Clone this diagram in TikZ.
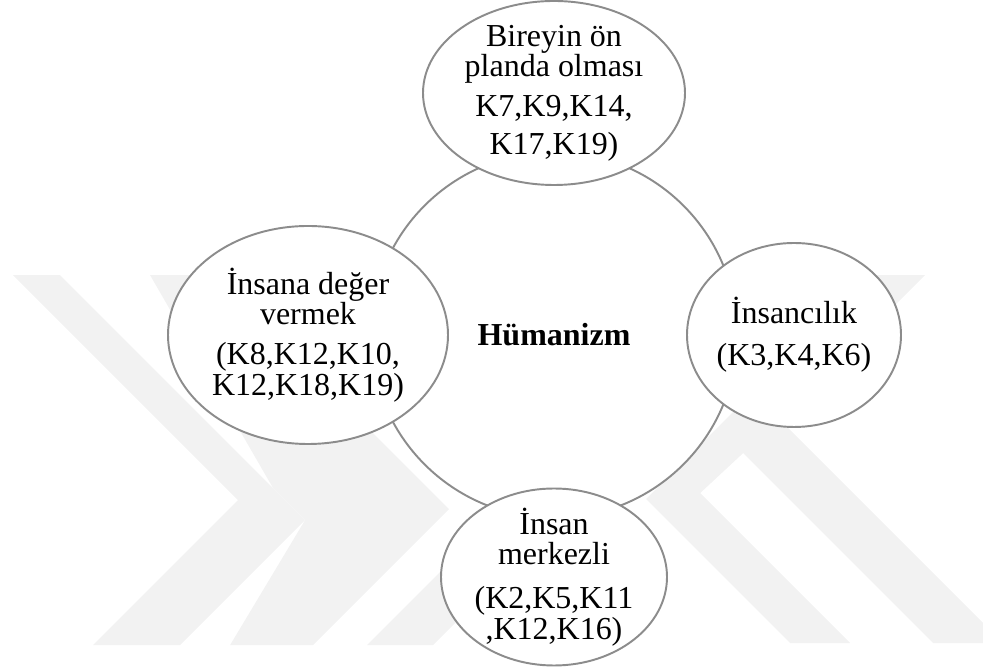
\documentclass[tikz,border=0pt]{standalone}
\usepackage{fontspec}
\setmainfont{Liberation Serif}
\usepackage{tikz}
\usetikzlibrary{positioning,shapes.geometric}
\definecolor{rimGray}{HTML}{8C8C8C}
\definecolor{markGray}{HTML}{F2F2F2}

\begin{document}
\begin{tikzpicture}[
  node distance=4.84cm,
  every node/.style={font=\fontsize{18.2}{17.2}\selectfont},
  oval/.style={ellipse, draw=rimGray, line width=1.1pt, fill=white, align=center, inner sep=-6pt, on grid},
  hub/.style={circle, draw=rimGray, line width=1.1pt, fill=white, minimum size=7.32cm, inner sep=0pt},
  wmark/.style={fill=markGray, draw=none}
]
\useasboundingbox (0,0) rectangle (19.66,13.4);
% faint watermark behind everything
\begin{scope}[x=0.02cm, y=-0.02cm, yshift=13.4cm]
\fill[wmark] (13,275) -- (60,275) -- (305,520) -- (180,645) -- (93,645) -- (238,500) -- cycle;
\fill[wmark] (150,275) -- (215,275) -- (449,509) -- (313,645) -- (230,645) -- (305,520) -- (273,488) -- cycle;
\fill[wmark] (367,645) -- (433,645) -- (620,458) -- (554,458) -- cycle;
\fill[wmark] (870,275) -- (925,275) -- (780,420) -- (983,623) -- (983,643) -- (933,643) -- (743,453)
  -- (700,493) -- (850,643) -- (790,643) -- (646,499) -- cycle;
\end{scope}
% centre and the four ovals
\node[hub] (hum) at (11.08,6.70) {\textbf{Hümanizm}};
\node[oval, above=of hum, minimum width=5.24cm, minimum height=3.68cm] (birey)
  {Bireyin ön\\planda olması\\[0.2cm]K7,K9,K14,\\[0.14cm]K17,K19)};
\node[oval, left=4.92cm of hum, minimum width=5.6cm, minimum height=4.36cm] (deger)
  {İnsana değer\\vermek\\[0.2cm](K8,K12,K10,\\K12,K18,K19)};
\node[oval, right=4.8cm of hum, minimum width=4.28cm, minimum height=3.68cm] (insanci)
  {İnsancılık\\[0.24cm](K3,K4,K6)};
\node[oval, below=of hum, minimum width=4.52cm, minimum height=3.54cm] (merkez)
  {İnsan\\merkezli\\[0.28cm](K2,K5,K11\\,K12,K16)};
\end{tikzpicture}
\end{document}
